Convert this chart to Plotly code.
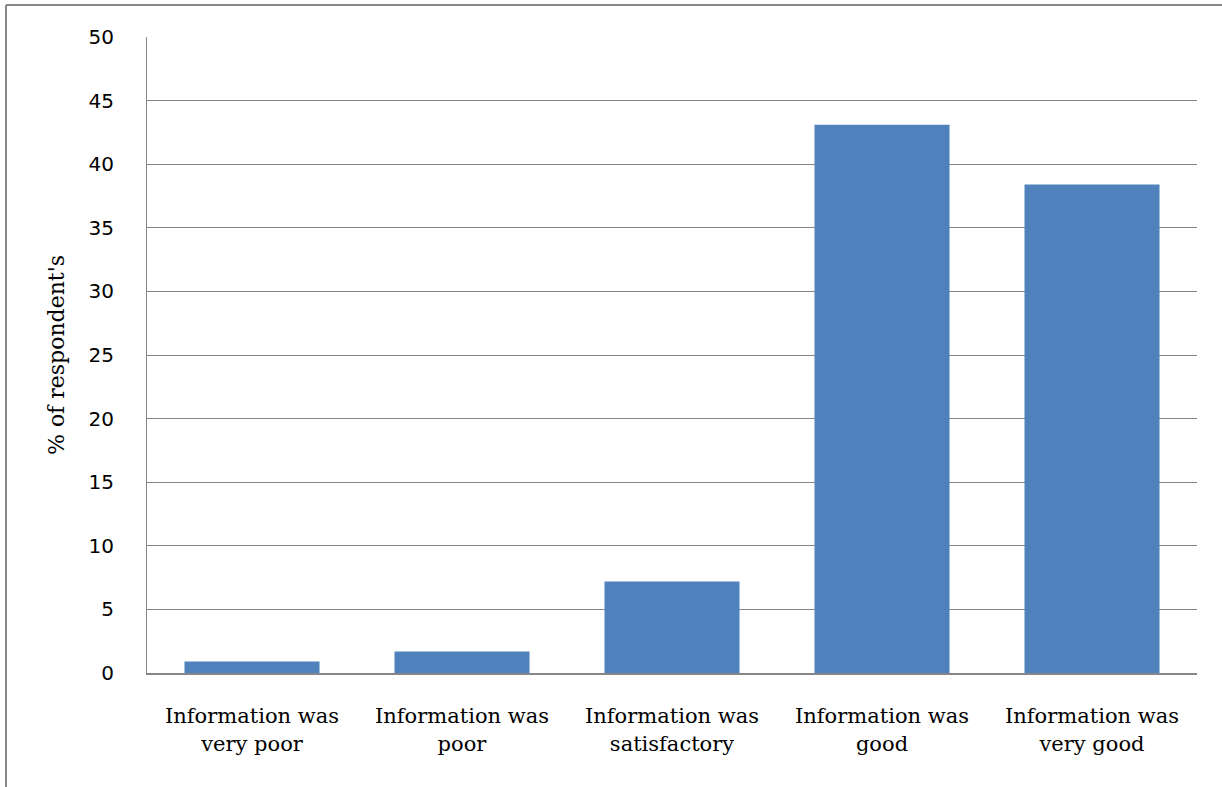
import plotly.graph_objects as go

categories = ["Information was<br>very poor", "Information was<br>poor",
              "Information was<br>satisfactory", "Information was<br>good",
              "Information was<br>very good"]
values = [0.9, 1.7, 7.2, 43.1, 38.4]
y_ticks = [0, 5, 10, 15, 20, 25, 30, 35, 40, 45, 50]

fig = go.Figure(go.Bar(x=categories, y=values, marker=dict(color="#4F81BD", line=dict(width=0)),
                       width=0.643))

L, R, T, B = 147, 25, 37, 114
W, H = 1222, 787
pw, ph = W - L - R, H - T - B

fig.update_layout(
    width=W, height=H,
    margin=dict(l=L, r=R, t=T, b=B, pad=0),
    paper_bgcolor="white", plot_bgcolor="white",
    showlegend=False,
    bargap=0.357,
    xaxis=dict(showgrid=False, showline=True, linecolor="#868686", linewidth=2,
               ticks="", tickfont=dict(family="DejaVu Serif", size=21, color="black"),
               ticklabelstandoff=23),
    yaxis=dict(range=[0, 50], tickvals=y_ticks, showgrid=True, gridcolor="#868686", gridwidth=1,
               showline=True, linecolor="#868686", linewidth=1, zeroline=False,
               ticks="", tickfont=dict(family="DejaVu Sans", size=20, color="black"),
               ticklabelstandoff=28,
               title=dict(text="% of respondent's", font=dict(family="DejaVu Serif", size=22, color="black"),
                          standoff=17)),
    shapes=[
        dict(type="line", xref="paper", yref="paper",
             x0=(6 - L) / pw, x1=(1230 - L) / pw, y0=(H - B - 5) / ph, y1=(H - B - 5) / ph,
             line=dict(color="#868686", width=2)),
        dict(type="line", xref="paper", yref="paper",
             x0=(6 - L) / pw, x1=(6 - L) / pw, y0=(H - B - 5) / ph, y1=(H - B - 800) / ph,
             line=dict(color="#868686", width=2)),
    ],
)

fig.write_html("out.html")
